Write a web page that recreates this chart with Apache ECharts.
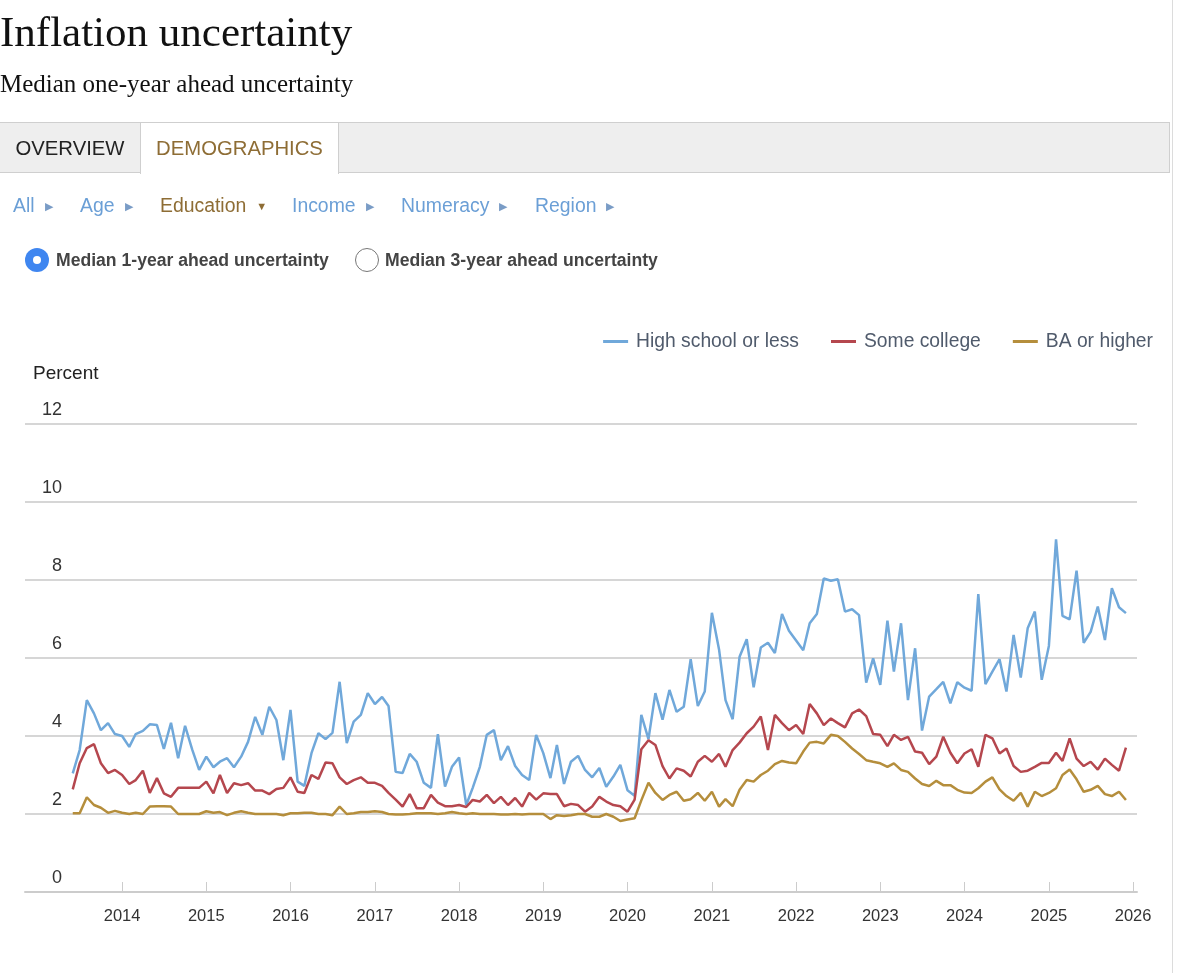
<!DOCTYPE html>
<html>
<head>
<meta charset="utf-8">
<script src="https://cdn.jsdelivr.net/npm/echarts@6/dist/echarts.min.js"></script>
<style>
  html, body { margin: 0; padding: 0; background: #fff; }
  body { width: 1200px; height: 973px; position: relative; overflow: hidden; font-family: "Liberation Sans", Arial, sans-serif; }
  #chart { position: absolute; left: 0; top: 0; width: 1200px; height: 973px; }
  .abs { position: absolute; white-space: nowrap; }
  #title { left: 0; top: 7px; font-family: "Liberation Serif", serif; font-size: 43px; color: #111; }
  #subtitle { left: 0; top: 70px; font-family: "Liberation Serif", serif; font-size: 25px; color: #111; }
  #tabbar { left: 0; top: 122px; width: 1169px; height: 49px; background: #eeeeee; border: 1px solid #cfcfcf; border-left: none; }
  .tab { position: absolute; top: 0; height: 49px; line-height: 50px; font-size: 20.3px; }
  #tab1 { left: 0; width: 140px; color: #222; text-align: center; }
  #tab2 { left: 140px; width: 197px; height: 51px; background: #fff; border-left: 1px solid #cfcfcf; border-right: 1px solid #cfcfcf; color: #8e6d35; text-align: center; }
  #rightline { left: 1172px; top: 0; width: 1px; height: 973px; background: #dcdcdc; }
  .flt { top: 194px; font-size: 19.4px; color: #6b9fd6; }
  .arr { font-size: 11px; color: #7a9cc6; position: relative; top: -2px; margin-left: 10px; }
  .rad { top: 248px; width: 24px; height: 24px; border-radius: 50%; box-sizing: border-box; }
  .radtxt { top: 250px; font-size: 17.6px; font-weight: bold; color: #444; }
</style>
</head>
<body>
<div id="chart"></div>
<div class="abs" id="title">Inflation uncertainty</div>
<div class="abs" id="subtitle">Median one-year ahead uncertainty</div>
<div class="abs" id="rightline"></div>
<div class="abs" id="tabbar">
  <div class="tab" id="tab1">OVERVIEW</div>
  <div class="tab" id="tab2">DEMOGRAPHICS</div>
</div>
<div class="abs flt" style="left:13px">All<span class="arr">&#9654;</span></div>
<div class="abs flt" style="left:80px">Age<span class="arr">&#9654;</span></div>
<div class="abs flt" style="left:160px;color:#8e6d35">Education<span class="arr" style="color:#8e6d35">&#9660;</span></div>
<div class="abs flt" style="left:292px">Income<span class="arr">&#9654;</span></div>
<div class="abs flt" style="left:401px">Numeracy<span class="arr">&#9654;</span></div>
<div class="abs flt" style="left:535px">Region<span class="arr">&#9654;</span></div>
<div class="abs rad" style="left:25px;background:#3f86f0;">
  <div style="position:absolute;left:8px;top:8px;width:8px;height:8px;border-radius:50%;background:#fff;"></div>
</div>
<div class="abs radtxt" style="left:56px">Median 1-year ahead uncertainty</div>
<div class="abs rad" style="left:355px;border:1.5px solid #777;background:#fff;"></div>
<div class="abs radtxt" style="left:385px">Median 3-year ahead uncertainty</div>

<script>
// Monthly observations, June 2013 through December 2025
const startYear = 2013, startMonth = 6, monthCount = 151;
const seriesNames = ['High school or less', 'Some college', 'BA or higher'];
const yTicks = [0, 2, 4, 6, 8, 10, 12];
const yearTicks = [2014, 2015, 2016, 2017, 2018, 2019, 2020, 2021, 2022, 2023, 2024, 2025, 2026];

const highSchool = [
  3.04,3.64,4.92,4.58,4.15,4.33,4.05,4.00,3.72,4.05,4.13,4.30,4.28,3.67,4.34,3.43,4.26,3.65,3.13,3.47,
  3.20,3.34,3.43,3.20,3.47,3.85,4.49,4.03,4.75,4.41,3.38,4.67,2.83,2.72,3.56,4.07,3.92,4.08,5.39,3.82,
  4.37,4.54,5.10,4.82,5.00,4.77,3.08,3.05,3.54,3.34,2.80,2.67,4.05,2.70,3.21,3.45,2.23,2.67,3.21,4.03,
  4.15,3.38,3.74,3.23,3.00,2.87,4.03,3.56,2.92,3.77,2.77,3.34,3.49,3.13,2.94,3.18,2.70,2.96,3.26,2.61,
  2.47,4.54,3.92,5.10,4.42,5.18,4.62,4.75,5.97,4.77,5.14,7.16,6.22,4.92,4.43,6.03,6.48,5.25,6.27,6.39,
  6.13,7.13,6.70,6.45,6.20,6.89,7.13,8.04,7.98,8.02,7.19,7.25,7.10,5.37,5.99,5.31,6.96,5.65,6.89,4.92,
  6.25,4.14,5.01,5.20,5.39,4.84,5.38,5.24,5.16,7.64,5.33,5.65,5.97,5.14,6.59,5.50,6.76,7.19,5.44,6.31,
  9.04,7.08,6.99,8.24,6.39,6.67,7.32,6.46,7.79,7.30,7.15
];
const someCollege = [
  2.63,3.30,3.69,3.79,3.30,3.05,3.13,3.00,2.77,2.87,3.11,2.54,2.92,2.53,2.44,2.67,2.67,2.67,2.67,2.83,
  2.53,3.00,2.54,2.79,2.74,2.79,2.60,2.60,2.51,2.64,2.67,2.94,2.57,2.54,3.00,2.90,3.32,3.30,2.94,2.77,
  2.87,2.94,2.80,2.80,2.72,2.54,2.37,2.19,2.51,2.15,2.15,2.49,2.29,2.20,2.20,2.23,2.18,2.36,2.32,2.49,
  2.28,2.44,2.23,2.41,2.19,2.54,2.37,2.53,2.51,2.51,2.20,2.26,2.23,2.06,2.19,2.44,2.32,2.23,2.20,2.06,
  2.37,3.66,3.89,3.77,3.23,2.91,3.17,3.11,2.96,3.34,3.49,3.34,3.54,3.21,3.64,3.83,4.07,4.24,4.50,3.64,
  4.54,4.33,4.15,4.28,4.05,4.82,4.58,4.28,4.45,4.33,4.22,4.58,4.68,4.51,4.05,4.03,3.74,4.03,3.90,3.98,
  3.60,3.57,3.28,3.47,3.98,3.57,3.30,3.55,3.66,3.21,4.03,3.94,3.55,3.68,3.23,3.08,3.11,3.21,3.31,3.31,
  3.57,3.36,3.94,3.42,3.23,3.34,3.14,3.42,3.26,3.11,3.70
];
const baOrHigher = [
  2.02,2.02,2.43,2.23,2.16,2.03,2.08,2.03,2.00,2.03,2.00,2.19,2.20,2.20,2.19,2.00,2.00,2.00,2.00,2.07,
  2.03,2.05,1.97,2.03,2.07,2.03,2.00,2.00,2.00,2.00,1.97,2.02,2.02,2.03,2.03,2.00,2.00,1.97,2.19,2.00,
  2.02,2.05,2.05,2.07,2.05,2.00,1.99,1.99,2.00,2.02,2.02,2.02,2.00,2.02,2.05,2.02,2.00,2.02,2.00,2.00,
  2.00,1.99,1.99,2.00,1.99,2.00,2.00,2.00,1.87,1.97,1.95,1.97,2.00,2.00,1.93,1.93,2.00,1.93,1.82,1.86,
  1.89,2.35,2.80,2.54,2.36,2.49,2.57,2.34,2.38,2.54,2.34,2.57,2.19,2.38,2.20,2.62,2.87,2.83,3.00,3.11,
  3.28,3.36,3.32,3.30,3.60,3.83,3.85,3.81,4.03,4.00,3.85,3.68,3.54,3.38,3.34,3.30,3.21,3.30,3.13,3.08,
  2.91,2.77,2.72,2.85,2.74,2.74,2.62,2.55,2.54,2.66,2.83,2.94,2.63,2.46,2.34,2.54,2.19,2.57,2.46,2.54,
  2.66,3.00,3.14,2.89,2.57,2.62,2.72,2.51,2.46,2.57,2.36
];

const monthStamps = [];
for (let i = 0; i < monthCount; i++) {
  monthStamps.push(new Date(startYear, startMonth - 1 + i, 1).getTime());
}
const yearStamps = yearTicks.map(function (y) { return new Date(y, 0, 1).getTime(); });
const colors = ['#70a8da', '#b5474e', '#b58e3c'];
const values = [highSchool, someCollege, baOrHigher];

const chart = echarts.init(document.getElementById('chart'));
chart.setOption({
  animation: false,
  color: colors,
  title: {
    text: 'Percent', left: 28, top: 359,
    textStyle: { fontSize: 19, fontWeight: 'normal', color: '#222', fontFamily: 'Liberation Sans' }
  },
  legend: {
    right: 42, top: 327,
    itemWidth: 25, itemHeight: 3, itemGap: 32,
    icon: 'rect',
    textStyle: { fontSize: 19.3, color: '#505b6c', fontFamily: 'Liberation Sans', padding: [0, 0, 0, 3] },
    data: seriesNames
  },
  grid: { left: 25, right: 63, top: 424, bottom: 81, containLabel: false },
  xAxis: {
    type: 'value',
    min: new Date(2012, 10, 6).getTime(),
    max: new Date(2026, 0, 18).getTime(),
    axisLine: { lineStyle: { color: '#cccccc', width: 2 } },
    axisTick: { show: true, inside: true, length: 10, customValues: yearStamps, lineStyle: { color: '#cccccc', width: 1 } },
    axisLabel: {
      fontSize: 16.5, color: '#333', margin: 16, fontFamily: 'Liberation Sans',
      customValues: yearStamps,
      formatter: function (v) { return String(new Date(v).getFullYear()); }
    },
    splitLine: { show: false }
  },
  yAxis: {
    type: 'value', min: yTicks[0], max: yTicks[yTicks.length - 1], interval: 2,
    axisLine: { show: false },
    axisTick: { show: false },
    splitLine: { lineStyle: { color: '#c9c9c9', width: 1.5 } },
    axisLabel: {
      inside: true, align: 'right', margin: 37, verticalAlign: 'bottom',
      padding: [0, 0, 5, 0], lineHeight: 18,
      fontSize: 18, color: '#333', fontFamily: 'Liberation Sans',
      formatter: function (v) { return yTicks.indexOf(v) >= 0 ? String(v) : ''; }
    }
  },
  series: seriesNames.map(function (name, k) {
    return {
      name: name, type: 'line', showSymbol: false, symbol: 'none',
      lineStyle: { width: 2.5, color: colors[k] },
      itemStyle: { color: colors[k] },
      data: monthStamps.map(function (t, i) { return [t, values[k][i]]; })
    };
  })
});
</script>
</body>
</html>
